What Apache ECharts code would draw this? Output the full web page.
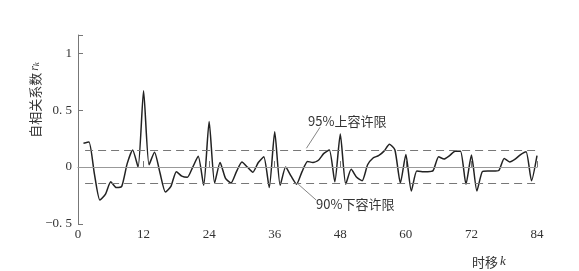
<!DOCTYPE html>
<html>
<head>
<meta charset="utf-8">
<script src="https://cdn.jsdelivr.net/npm/echarts@6/dist/echarts.min.js"></script>
<style>html,body{margin:0;padding:0;background:#fff}#c{width:579px;height:271px}</style>
</head>
<body>
<div id="c"></div>
<script>
// lag k and autocorrelation r_k
const lags = [];
for (let k = 1; k <= 84; k++) lags.push(k);
const rk = [
  0.21, 0.22, -0.06, -0.29, -0.24, -0.13, -0.18, -0.17, 0.03, 0.15,
  0.00, 0.67, 0.02, 0.13, -0.05, -0.22, -0.17, -0.04, -0.08, -0.09,
  0.00, 0.095, -0.16, 0.40, -0.14, 0.04, -0.10, -0.14, -0.04, 0.045,
  0.00, -0.045, 0.04, 0.09, -0.18, 0.31, -0.16, 0.00, -0.08, -0.15,
  -0.04, 0.05, 0.04, 0.06, 0.12, 0.15, -0.13, 0.29, -0.15, -0.02,
  -0.09, -0.12, 0.02, 0.08, 0.10, 0.14, 0.20, 0.15, -0.14, 0.11,
  -0.21, -0.035, -0.04, -0.04, -0.03, 0.09, 0.07, 0.10, 0.14, 0.14,
  -0.15, 0.105, -0.21, -0.04, -0.035, -0.035, -0.03, 0.075, 0.045, 0.07,
  0.11, 0.135, -0.12, 0.10
];
const xTicks = [0, 12, 24, 36, 48, 60, 72, 84];
const yTicks = [-0.5, 0, 0.5, 1];
const upperLimit = 0.145;
const lowerLimit = -0.145;
const upperLabel = '95%上容许限';
const lowerLabel = '90%下容许限';
const yName = '自相关系数';
const xName = '时移';

const data = lags.map((k, i) => [k, rk[i]]);
const serif = '"Liberation Serif","DejaVu Serif",serif';
const cjk = '"Noto Sans CJK SC",sans-serif';

function yFmt(v) {
  const r = Math.round(v * 10) / 10;
  if (!yTicks.some(t => Math.abs(t - v) < 1e-6)) return '';
  if (r === 0) return '0';
  if (r === 1) return '1';
  const s = Math.abs(r).toString().replace('.', '. ');
  return (r < 0 ? '\u2212' : '') + s;
}

const chart = echarts.init(document.getElementById('c'));
chart.setOption({
  backgroundColor: '#fff',
  animation: false,
  grid: { left: 78, right: 42, top: 35, bottom: 47 },
  xAxis: {
    type: 'value', min: 0, max: 84, interval: 12,
    axisLine: { lineStyle: { color: '#777', width: 1 } },
    axisTick: { inside: true, length: 6, lineStyle: { color: '#777' } },
    axisLabel: { color: '#333', fontFamily: serif, fontSize: 13, margin: 4 },
    splitLine: { show: false }
  },
  yAxis: {
    type: 'value', min: -0.5, max: 1.16, interval: 0.5,
    axisLine: { show: true, lineStyle: { color: '#777', width: 1 } },
    axisTick: { show: true, inside: true, length: 5, lineStyle: { color: '#777' } },
    axisLabel: { color: '#333', fontFamily: serif, fontSize: 13, margin: 6, formatter: yFmt },
    splitLine: { show: false }
  },
  series: [{
    type: 'line',
    data: data,
    smooth: 0.2,
    symbol: 'none',
    lineStyle: { color: '#222', width: 1.5 },
    z: 3,
    markLine: {
      silent: true,
      symbol: 'none',
      label: { show: false },
      data: [
        [{ coord: [0, 0], lineStyle: { type: 'solid', color: '#999', width: 1 } }, { coord: [84, 0] }],
        [{ coord: [1.3, upperLimit], lineStyle: { type: [8, 5], color: '#777', width: 1 } }, { coord: [84, upperLimit] }],
        [{ coord: [1.3, lowerLimit], lineStyle: { type: [8, 5], color: '#777', width: 1 } }, { coord: [84, lowerLimit] }],
        [{ coord: [41.8, 0.165], lineStyle: { type: 'solid', color: '#666', width: 0.8 } }, { coord: [44.3, 0.35] }],
        [{ coord: [40.3, -0.15], lineStyle: { type: 'solid', color: '#666', width: 0.8 } }, { coord: [43.6, -0.29] }]
      ]
    }
  }],
  graphic: [
    { type: 'text', left: 308, top: 115, style: { text: upperLabel, font: '13px ' + cjk, fill: '#333' } },
    { type: 'text', left: 316, top: 198, style: { text: lowerLabel, font: '13px ' + cjk, fill: '#333' } },
    {
      type: 'text', x: 35, y: 100, rotation: Math.PI / 2,
      style: {
        text: '{a|' + yName + '}{r|r}{k|k}',
        align: 'center', verticalAlign: 'middle',
        rich: {
          a: { fontFamily: cjk, fontSize: 13, fill: '#333' },
          r: { fontFamily: serif, fontStyle: 'italic', fontSize: 12, fill: '#333', padding: [0, 0, 0, 2] },
          k: { fontFamily: serif, fontStyle: 'italic', fontSize: 9, fill: '#333', verticalAlign: 'bottom' }
        }
      }
    },
    {
      type: 'text', x: 489, y: 262,
      style: {
        text: '{a|' + xName + '}{k|k}',
        align: 'center', verticalAlign: 'middle',
        rich: {
          a: { fontFamily: cjk, fontSize: 13, fill: '#333' },
          k: { fontFamily: serif, fontStyle: 'italic', fontSize: 13, fill: '#333', padding: [0, 0, 0, 2] }
        }
      }
    }
  ]
});
</script>
</body>
</html>
